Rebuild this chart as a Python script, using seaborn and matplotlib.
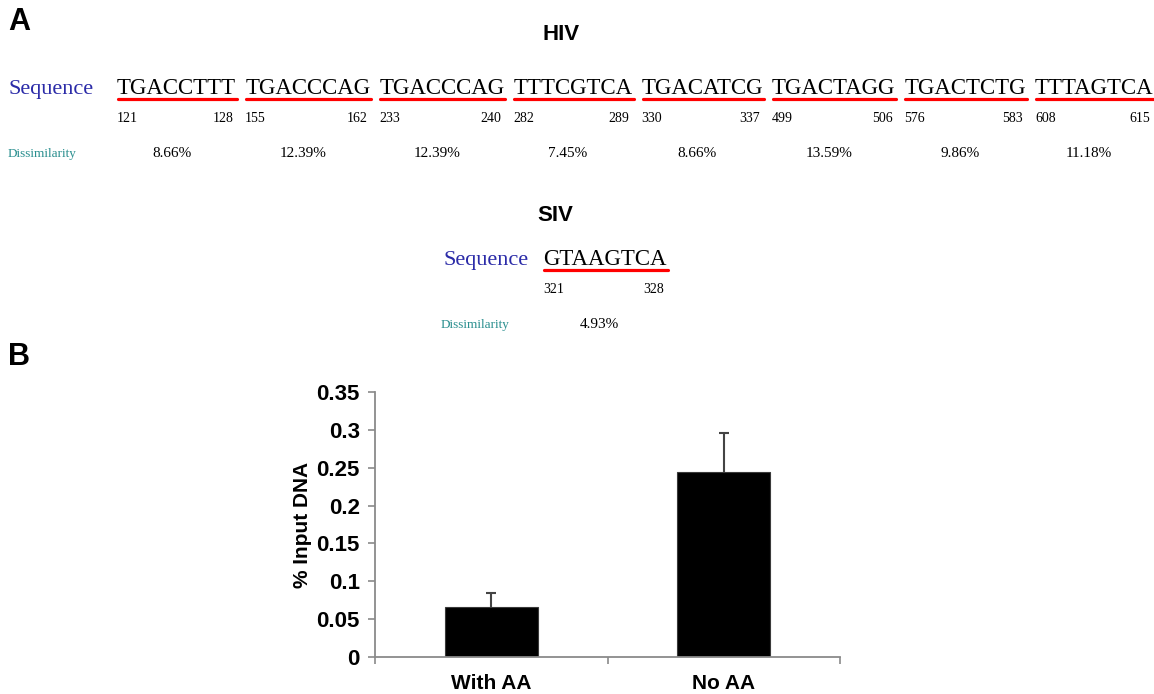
import numpy as np
import pandas as pd
import matplotlib
matplotlib.use("Agg")
import matplotlib.pyplot as plt
import seaborn as sns

# panel A - candidate sites found in HIV and SIV
hiv_seqs = ['TGACCTTT', 'TGACCCAG', 'TGACCCAG', 'TTTCGTCA',
            'TGACATCG', 'TGACTAGG', 'TGACTCTG', 'TTTAGTCA']
hiv_start = [121, 155, 233, 282, 330, 499, 576, 608]
hiv_end = [128, 162, 240, 289, 337, 506, 583, 615]
hiv_dissim = ['8.66%', '12.39%', '12.39%', '7.45%', '8.66%', '13.59%', '9.86%', '11.18%']

siv_seqs = ['GTAAGTCA']
siv_start = [321]
siv_end = [328]
siv_dissim = ['4.93%']

# panel B - ChIP, % input DNA
conditions = ['With AA', 'No AA']
input_dna = [0.066, 0.244]
input_err = [0.018, 0.052]
y_ticks = [0, 0.05, 0.1, 0.15, 0.2, 0.25, 0.3, 0.35]
y_ticklabels = ['0', '0.05', '0.1', '0.15', '0.2', '0.25', '0.3', '0.35']

sns.set_style("white")
plt.rcParams['font.family'] = ['Liberation Sans', 'DejaVu Sans']
plt.rcParams['text.color'] = 'black'
plt.rcParams['axes.labelcolor'] = 'black'
plt.rcParams['xtick.color'] = 'black'
plt.rcParams['ytick.color'] = 'black'

W, H = 1154, 694
fig = plt.figure(figsize=(W / 100, H / 100), dpi=100)
renderer = fig.canvas.get_renderer()

SERIF = ['Liberation Serif', 'DejaVu Serif']
SEQ_BLUE = '#2b2ba8'
TEAL = '#2a8f8f'


def px(x, y):
    # pixel position from the top-left corner -> figure fraction
    return x / W, 1 - y / H


def site_row(label_x, seq_x, base_y, seqs, starts, ends, dissims, dis_x):
    fig.text(*px(label_x, base_y), 'Sequence', family=SERIF, size=16,
             color=SEQ_BLUE, va='baseline')
    x = seq_x
    for seq, s, e, d in zip(seqs, starts, ends, dissims):
        t = fig.text(*px(x, base_y), seq, family=SERIF, size=16.5,
                     color='black', va='baseline')
        bb = t.get_window_extent(renderer)
        x0, x1 = bb.x0, bb.x1
        fig.add_artist(plt.Line2D([(x0 + 1) / W, (x1 + 1) / W], [1 - (base_y + 5) / H] * 2,
                                  color='red', lw=2.3, transform=fig.transFigure))
        fig.text(*px(x0, base_y + 28), str(s), family=SERIF, size=10, va='baseline')
        fig.text(*px(x1 - 3, base_y + 28), str(e), family=SERIF, size=10,
                 va='baseline', ha='right')
        fig.text(*px((x0 + x1) / 2 - 5, base_y + 63), d, family=SERIF, size=11,
                 va='baseline', ha='center')
        x = x1 + 9
    fig.text(*px(dis_x, base_y + 63), 'Dissimilarity', family=SERIF, size=9.5,
             color=TEAL, va='baseline')


fig.text(*px(8, 30), 'A', size=22, weight='bold', va='baseline')
fig.text(*px(561, 40), 'HIV', size=16, weight='bold', va='baseline', ha='center')
site_row(8, 117, 94, hiv_seqs, hiv_start, hiv_end, hiv_dissim, 8)

fig.text(*px(555, 221), 'SIV', size=16, weight='bold', va='baseline', ha='center')
site_row(444, 543, 265, siv_seqs, siv_start, siv_end, siv_dissim, 441)

fig.text(*px(8, 365), 'B', size=22, weight='bold', va='baseline')

# bar chart
ax = fig.add_axes([375 / W, 37 / H, 465 / W, 265 / H])
df = pd.DataFrame({'condition': conditions, 'input': input_dna, 'err': input_err})
sns.barplot(data=df, x='condition', y='input', color='black', width=0.4,
            errorbar=None, edgecolor='#3a3a3a', linewidth=0.8, saturation=1, ax=ax)
_, caps, _ = ax.errorbar(np.arange(len(conditions)), df['input'],
                         yerr=[np.zeros(len(conditions)), df['err']],
                         fmt='none', ecolor='#444444', elinewidth=1.5,
                         capsize=3.5, capthick=1.5)
caps[0].set_visible(False)

ax.set_xlim(-0.5, len(conditions) - 0.5)
ax.set_ylim(0, 0.35)
ax.set_yticks(y_ticks)
ax.set_yticklabels(y_ticklabels)
ax.set_xticks(np.arange(len(conditions)))
ax.set_xticklabels(conditions)
ax.set_xticks(np.arange(len(conditions) + 1) - 0.5, minor=True)
ax.tick_params(axis='x', which='major', bottom=True, length=0, pad=12, labelsize=15)
ax.tick_params(axis='x', which='minor', bottom=True, length=5, width=1.2,
               color='#8a8a8a', direction='out')
ax.tick_params(axis='y', left=True, length=5, width=1.2, color='#8a8a8a',
               direction='out', pad=6, labelsize=16)
for lab in ax.get_xticklabels() + ax.get_yticklabels():
    lab.set_fontweight('bold')
ax.set_xlabel('')
ax.set_ylabel('% Input DNA', size=15, weight='bold', labelpad=3)
sns.despine(ax=ax)
for side in ['left', 'bottom']:
    ax.spines[side].set_color('#8a8a8a')
    ax.spines[side].set_linewidth(1.3)

fig.savefig('out.png', dpi=100)
